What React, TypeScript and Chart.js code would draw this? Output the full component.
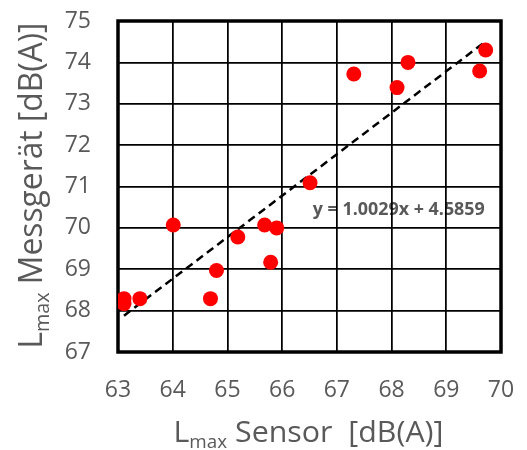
import React, { useEffect, useRef } from "react";
import { Chart, registerables } from "chart.js";

Chart.register(...registerables);

// ---- Data ----
const sensorValues = [69.72, 69.61, 68.3, 67.31, 68.1, 66.51, 64.01, 65.68, 65.9, 65.19, 65.79, 64.8, 64.69, 63.4, 63.11, 63.11];
const meterValues = [74.3, 73.79, 74.0, 73.72, 73.39, 71.09, 70.07, 70.07, 70.0, 69.78, 69.17, 68.97, 68.29, 68.29, 68.29, 68.17];
const xRange = [63, 70];
const yRange = [67, 75];
const trendSlope = 1.0029;
const trendIntercept = 4.5859;
const equationText = "y = 1.0029x + 4.5859";
const equationAnchor = [66.56, 70.47];
const titleMain = "L";
const titleSub = "max";
const xTitleRest = " Sensor  [dB(A)]";
const yTitleRest = " Messgerät [dB(A)]";

const GRAY = "#595959";
const FONT = "'Open Sans', 'Noto Sans', sans-serif";

function drawSubTitle(
  ctx: CanvasRenderingContext2D,
  cx: number,
  cy: number,
  rotation: number,
  size: number,
  rest: string,
  targetWidth: number
) {
  const subSize = size * 0.62;
  const parts = [
    { t: titleMain, s: size, dy: 0 },
    { t: titleSub, s: subSize, dy: size * 0.2 },
    { t: rest, s: size, dy: 0 },
  ];
  let total = 0;
  const widths: number[] = [];
  for (const p of parts) {
    ctx.font = `${p.s}px ${FONT}`;
    const w = ctx.measureText(p.t).width;
    widths.push(w);
    total += w;
  }
  const k = targetWidth / total;
  ctx.save();
  ctx.translate(cx, cy);
  ctx.rotate(rotation);
  ctx.scale(k, 1);
  ctx.fillStyle = GRAY;
  ctx.textBaseline = "alphabetic";
  ctx.textAlign = "left";
  let x = -total / 2;
  const base = (size * 0.714) / 2;
  parts.forEach((p, i) => {
    ctx.font = `${p.s}px ${FONT}`;
    ctx.fillText(p.t, x, base + p.dy);
    x += widths[i];
  });
  ctx.restore();
}

const decorPlugin = {
  id: "decor",
  beforeDraw(chart: any) {
    const { ctx, scales } = chart;
    const px = scales.x.getPixelForValue(equationAnchor[0]);
    const py = scales.y.getPixelForValue(equationAnchor[1]);
    ctx.save();
    ctx.font = `bold 18px ${FONT}`;
    const w = ctx.measureText(equationText).width;
    const k = 172 / w;
    ctx.translate(px, py);
    ctx.scale(k, 1);
    ctx.fillStyle = GRAY;
    ctx.textBaseline = "alphabetic";
    ctx.textAlign = "left";
    ctx.fillText(equationText, 0, 6.5);
    ctx.restore();
  },
  beforeDatasetsDraw(chart: any) {
    const { ctx, chartArea } = chart;
    const { left, top, right, bottom } = chartArea;
    ctx.save();
    ctx.strokeStyle = "#000";
    ctx.lineWidth = 3.5;
    ctx.strokeRect(left, top, right - left, bottom - top);
    ctx.restore();
  },
  afterDraw(chart: any) {
    const { ctx, chartArea } = chart;
    const cxPlot = (chartArea.left + chartArea.right) / 2;
    const cyPlot = (chartArea.top + chartArea.bottom) / 2;
    drawSubTitle(ctx, cxPlot - 1, 431, 0, 30, xTitleRest, 270);
    drawSubTitle(ctx, 31, cyPlot - 1, -Math.PI / 2, 32, yTitleRest, 326);
  },
};

function zeroPadding(s: any) {
  s.paddingTop = 0;
  s.paddingBottom = 0;
  s.paddingLeft = 0;
  s.paddingRight = 0;
}

export default function App() {
  const canvasRef = useRef<HTMLCanvasElement | null>(null);

  useEffect(() => {
    if (!canvasRef.current) return;
    const points = sensorValues.map((x, i) => ({ x, y: meterValues[i] }));
    const xMinData = Math.min(...sensorValues);
    const xMaxData = Math.max(...sensorValues);
    const trend = [xMinData, xMaxData].map((x) => ({ x, y: trendSlope * x + trendIntercept }));

    const chart = new Chart(canvasRef.current, {
      type: "scatter",
      data: {
        datasets: [
          {
            label: "Messwerte",
            data: points,
            backgroundColor: "#FF0000",
            borderWidth: 0,
            pointRadius: 7.5,
            pointHoverRadius: 7.5,
            order: 1,
          },
          {
            type: "line",
            label: "Trend",
            data: trend,
            borderColor: "#000",
            borderWidth: 2.5,
            borderDash: [8, 5],
            pointRadius: 0,
            fill: false,
            order: 2,
          } as any,
        ],
      },
      options: {
        responsive: false,
        devicePixelRatio: 1,
        animation: false,
        events: [],
        layout: { padding: { left: 0, top: 21, right: 26, bottom: 0 } },
        plugins: { legend: { display: false }, tooltip: { enabled: false } },
        scales: {
          x: {
            type: "linear",
            min: xRange[0],
            max: xRange[1],
            ticks: { stepSize: 1, color: GRAY, font: { family: FONT, size: 23 }, padding: 25 },
            grid: { color: "#000", lineWidth: 1.75, drawTicks: false },
            border: { display: false },
            afterFit: (s: any) => {
              s.height = 98;
              zeroPadding(s);
            },
          },
          y: {
            type: "linear",
            min: yRange[0],
            max: yRange[1],
            ticks: { stepSize: 1, color: GRAY, font: { family: FONT, size: 23 }, padding: 27 },
            grid: { color: "#000", lineWidth: 1.75, drawTicks: false },
            border: { display: false },
            afterFit: (s: any) => {
              s.width = 118;
              zeroPadding(s);
            },
          },
        },
      },
      plugins: [decorPlugin],
    });
    return () => chart.destroy();
  }, []);

  return (
    <div style={{ position: "absolute", left: 0, top: 0, width: 527, height: 450, background: "#fff" }}>
      <canvas ref={canvasRef} width={527} height={450} style={{ display: "block" }} />
    </div>
  );
}
